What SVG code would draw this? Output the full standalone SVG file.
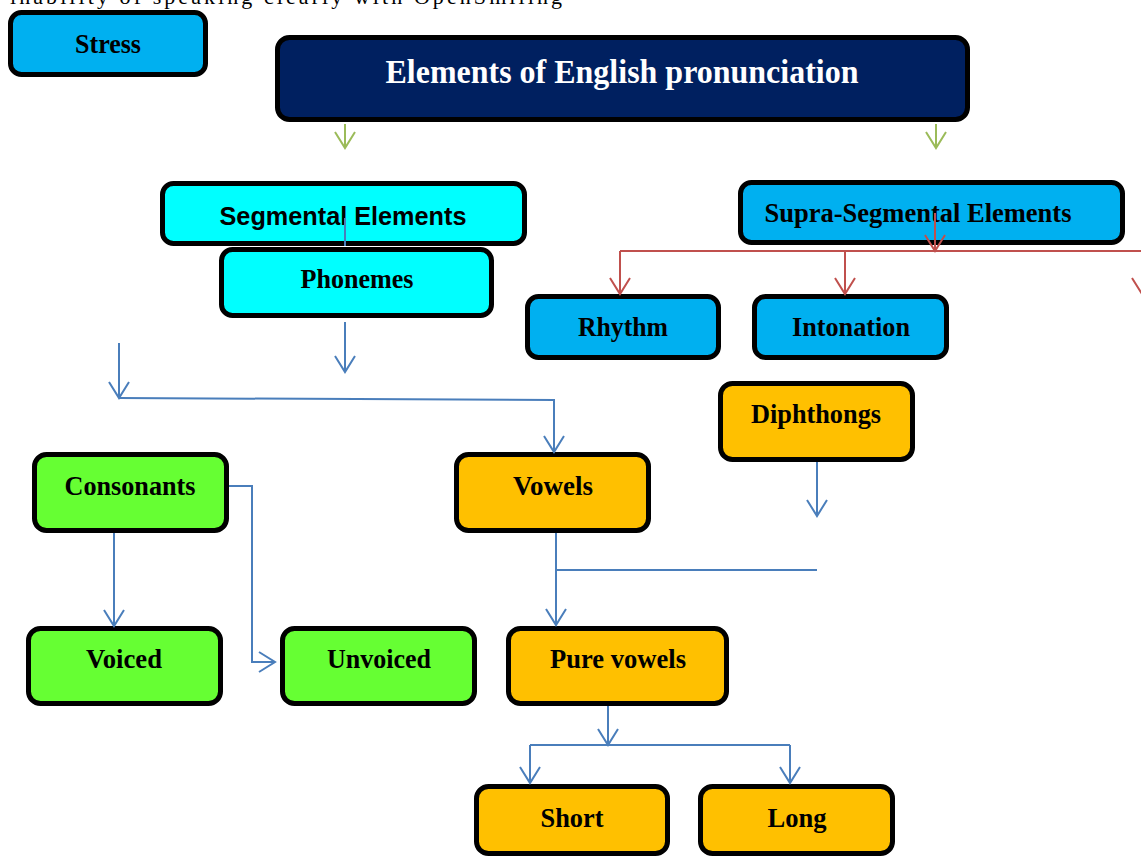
<svg xmlns="http://www.w3.org/2000/svg" width="1141" height="857" viewBox="0 0 1141 857">
<defs>
<marker id="ab" markerUnits="userSpaceOnUse" viewBox="0 0 20 24" refX="18" refY="12" markerWidth="20" markerHeight="24" orient="auto"><path d="M2,2 L18,12 L2,22" fill="none" stroke="#4A7EBB" stroke-width="2"/></marker>
<marker id="ar" markerUnits="userSpaceOnUse" viewBox="0 0 20 24" refX="18" refY="12" markerWidth="20" markerHeight="24" orient="auto"><path d="M2,2 L18,12 L2,22" fill="none" stroke="#C0504D" stroke-width="2"/></marker>
<marker id="ag" markerUnits="userSpaceOnUse" viewBox="0 0 20 24" refX="18" refY="12" markerWidth="20" markerHeight="24" orient="auto"><path d="M2,2 L18,12 L2,22" fill="none" stroke="#9BBB59" stroke-width="2"/></marker>
</defs>
<style>
.box{stroke:#000;stroke-width:5}
.t{font-family:"Liberation Serif","Times New Roman",serif;font-weight:bold;font-size:28px;text-anchor:middle;fill:#000}
.s{font-family:"Liberation Sans",Arial,sans-serif;font-weight:bold;font-size:25px;text-anchor:middle;fill:#000}
.b{fill:none;stroke:#4A7EBB;stroke-width:2}
.r{fill:none;stroke:#C0504D;stroke-width:2}
.g{fill:none;stroke:#9BBB59;stroke-width:2}
.cy{fill:#00B0F0}.aq{fill:#00FFFF}.or{fill:#FFC000}.gr{fill:#66FF33}
</style>
<rect width="1141" height="857" fill="#fff"/>
<text x="10" y="4" font-family="Liberation Serif,serif" font-size="22" textLength="552" lengthAdjust="spacing" fill="#000">inability of speaking clearly with OpenSmiling</text>

<g id="stress"><rect class="box cy" x="10.5" y="12.5" width="195" height="62" rx="11"/><text class="t" x="108" y="53" textLength="66" lengthAdjust="spacingAndGlyphs">Stress</text></g>
<g id="title"><rect class="box" fill="#002060" x="277.5" y="37.5" width="690" height="82" rx="12"/><text class="t" x="622" y="83" style="fill:#fff;font-size:33px" textLength="473" lengthAdjust="spacingAndGlyphs">Elements of English pronunciation</text></g>
<g id="segmental"><rect class="box aq" x="162.5" y="183.5" width="362" height="60" rx="11"/><text class="s" x="343" y="225" textLength="247" lengthAdjust="spacingAndGlyphs">Segmental Elements</text></g>
<g id="phonemes"><rect class="box aq" x="221.5" y="249.5" width="270" height="66" rx="11"/><text class="t" x="357" y="288" textLength="113" lengthAdjust="spacingAndGlyphs">Phonemes</text></g>
<g id="supra"><rect class="box cy" x="740.5" y="182.5" width="382" height="60" rx="11"/><text class="t" x="918" y="222" textLength="307" lengthAdjust="spacingAndGlyphs">Supra-Segmental Elements</text></g>
<g id="rhythm"><rect class="box cy" x="527.5" y="296.5" width="191" height="61" rx="11"/><text class="t" x="623" y="336" textLength="90" lengthAdjust="spacingAndGlyphs">Rhythm</text></g>
<g id="intonation"><rect class="box cy" x="754.5" y="296.5" width="192" height="61" rx="11"/><text class="t" x="851" y="336" textLength="118" lengthAdjust="spacingAndGlyphs">Intonation</text></g>
<g id="diphthongs"><rect class="box or" x="720.5" y="383.5" width="192" height="76" rx="12"/><text class="t" x="816" y="423" textLength="130" lengthAdjust="spacingAndGlyphs">Diphthongs</text></g>
<g id="consonants"><rect class="box gr" x="34.5" y="454.5" width="192" height="76" rx="12"/><text class="t" x="130" y="495" textLength="131" lengthAdjust="spacingAndGlyphs">Consonants</text></g>
<g id="vowels"><rect class="box or" x="456.5" y="454.5" width="192" height="76" rx="12"/><text class="t" x="553" y="495" textLength="80" lengthAdjust="spacingAndGlyphs">Vowels</text></g>
<g id="voiced"><rect class="box gr" x="28.5" y="628.5" width="192" height="75" rx="12"/><text class="t" x="124" y="668" textLength="76" lengthAdjust="spacingAndGlyphs">Voiced</text></g>
<g id="unvoiced"><rect class="box gr" x="282.5" y="628.5" width="192" height="75" rx="12"/><text class="t" x="379" y="668" textLength="104" lengthAdjust="spacingAndGlyphs">Unvoiced</text></g>
<g id="purevowels"><rect class="box or" x="508.5" y="628.5" width="218" height="75" rx="12"/><text class="t" x="618" y="668" textLength="136" lengthAdjust="spacingAndGlyphs">Pure vowels</text></g>
<g id="short"><rect class="box or" x="476.5" y="786.5" width="191" height="67" rx="12"/><text class="t" x="572" y="827" textLength="63" lengthAdjust="spacingAndGlyphs">Short</text></g>
<g id="long"><rect class="box or" x="700.5" y="786.5" width="192" height="67" rx="12"/><text class="t" x="797" y="827" textLength="59" lengthAdjust="spacingAndGlyphs">Long</text></g>

<g id="connectors">
<line class="g" x1="345" y1="124" x2="345" y2="148" marker-end="url(#ag)"/>
<line class="g" x1="936" y1="124" x2="936" y2="148" marker-end="url(#ag)"/>
<line class="b" x1="345" y1="218" x2="345" y2="246"/>
<line class="b" x1="345" y1="322" x2="345" y2="372" marker-end="url(#ab)"/>
<line class="b" x1="119" y1="343" x2="119" y2="398" marker-end="url(#ab)"/>
<polyline class="b" points="119,398 554,400 554,452" marker-end="url(#ab)"/>
<line class="r" x1="935" y1="213" x2="935" y2="251" marker-end="url(#ar)"/>
<line class="r" x1="620" y1="251" x2="1141" y2="251"/>
<line class="r" x1="620" y1="251" x2="620" y2="294" marker-end="url(#ar)"/>
<line class="r" x1="845" y1="251" x2="845" y2="294" marker-end="url(#ar)"/>
<line class="r" x1="1142" y1="251" x2="1142" y2="294" marker-end="url(#ar)"/>
<line class="b" x1="817" y1="462" x2="817" y2="516" marker-end="url(#ab)"/>
<line class="b" x1="556" y1="570" x2="817" y2="570"/>
<line class="b" x1="556" y1="533" x2="556" y2="625" marker-end="url(#ab)"/>
<line class="b" x1="114" y1="533" x2="114" y2="626" marker-end="url(#ab)"/>
<polyline class="b" points="229,486 252,486 252,662 275,662" marker-end="url(#ab)"/>
<line class="b" x1="608" y1="706" x2="608" y2="745" marker-end="url(#ab)"/>
<polyline class="b" points="530,745 790,745"/>
<line class="b" x1="530" y1="745" x2="530" y2="783" marker-end="url(#ab)"/>
<line class="b" x1="790" y1="745" x2="790" y2="783" marker-end="url(#ab)"/>
</g>
</svg>
